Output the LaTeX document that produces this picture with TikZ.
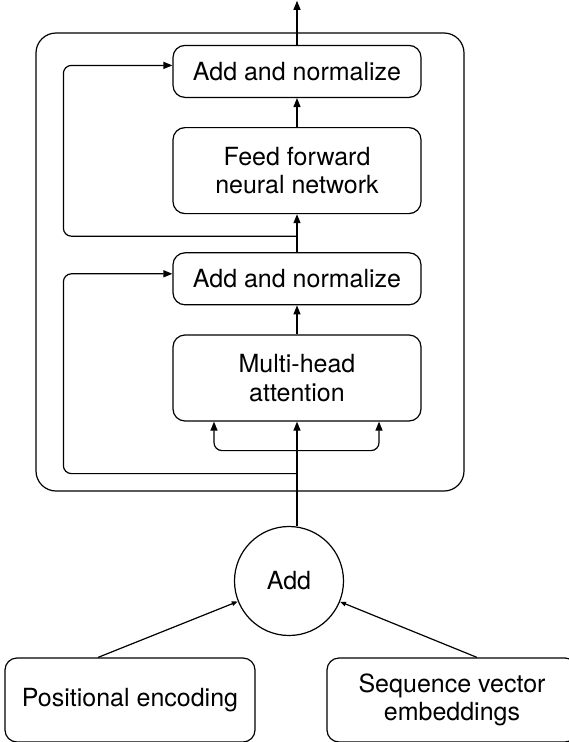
\documentclass[tikz,border=0pt]{standalone}
\usepackage{fontspec}
\setmainfont{TeX Gyre Heros}
\usetikzlibrary{arrows.meta,positioning,calc}

\begin{document}
\begin{tikzpicture}[
    x=1pt, y=-1pt,
    line width=1.2pt,
    >={Triangle[length=9pt,width=7pt]},
    block/.style={
        rectangle,
        rounded corners=12pt,
        draw,
        minimum width=248pt,
        minimum height=#1,
        font=\fontsize{25}{28.5}\selectfont,
        align=center
    },
    block/.default=52pt,
    small tip/.style={>={Triangle[length=6pt,width=4.5pt]}}
]
\clip (0,0) rectangle (569,742);

% Encoder layer frame
\node[draw, rounded corners=20pt, minimum width=428pt, minimum height=458pt, inner sep=0pt] (layer) at (250,262) {};

% Nodes — bottom to top inside the frame
\node[block=86pt] (mha)   at (297,378) {Multi-head\\attention};
\node[block]      (norm2) [above=29pt of mha] {Add and normalize};
\node[block=86pt] (ffn)   [above=38pt of norm2] {Feed forward\\neural network};
\node[block]      (norm1) [above=29pt of ffn] {Add and normalize};

% Inputs below the frame
\node[circle, draw, minimum size=109pt, font=\fontsize{25}{28.5}\selectfont] (add) at (289,581) {Add};
\node[block=84pt, minimum width=250pt] (pos) at (130,700) {Positional encoding};
\node[block=84pt, minimum width=250pt] (seq) at (452,700) {Sequence vector\\embeddings};

% Branch points
\coordinate (out)   at ([yshift=44pt]norm1.north);
\coordinate (fork)  at ([yshift=-29pt]mha.south);
\coordinate (skip1) at ([yshift=-22pt]ffn.south);
\coordinate (skip2) at ([yshift=-52pt]mha.south);

% Arrows (main path upward)
\draw[->] (mha.south |- add.north) -- (mha.south);
\draw[->, rounded corners=8pt] (fork) -| ([xshift=-83pt]mha.south);
\draw[->, rounded corners=8pt] (fork) -| ([xshift=82pt]mha.south);
\draw[->] (mha)   -- (norm2);
\draw[->] (norm2) -- (ffn);
\draw[->] (ffn)   -- (norm1);
\draw[->] (norm1) -- (out);

% Residual connections on the left
\draw[->, rounded corners=8pt] (skip2) -| ([xshift=-109pt,yshift=5pt]norm2.west) -- ([yshift=5pt]norm2.west);
\draw[->, rounded corners=8pt] (skip1) -| ([xshift=-109pt,yshift=6pt]norm1.west) -- ([yshift=6pt]norm1.west);

% Inputs into Add
\draw[->, small tip] ([xshift=-32pt]pos.north) -- (add);
\draw[->, small tip] ([xshift=25pt]seq.north)  -- (add);

\end{tikzpicture}
\end{document}
